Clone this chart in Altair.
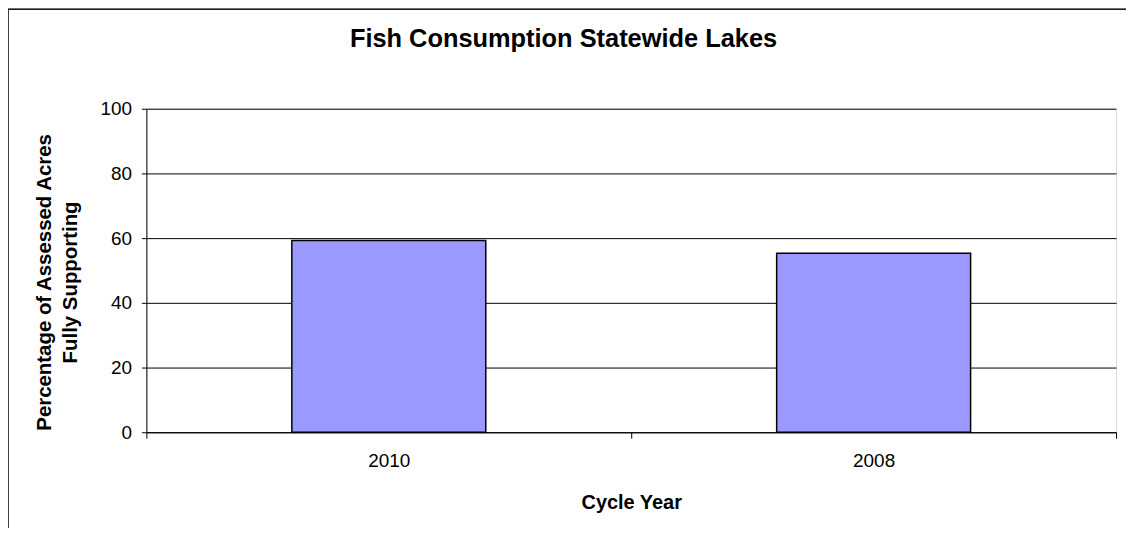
import altair as alt
import pandas as pd

years = ["2010", "2008"]
values = [59.3, 55.3]
y_ticks = [0, 20, 40, 60, 80, 100]

df = pd.DataFrame({"year": years, "value": values})

FONT = "Liberation Sans"

bars = alt.Chart(df).mark_bar(
    color="#9999FF", stroke="#000000", strokeWidth=1.5,
    width=alt.RelativeBandSize(0.4),
).encode(
    x=alt.X(
        "year:N",
        sort=None,
        scale=alt.Scale(paddingInner=0, paddingOuter=0),
        axis=alt.Axis(
            title="Cycle Year",
            labelAngle=0,
            labelFontSize=19,
            labelFont=FONT,
            labelColor="#000000",
            labelPadding=13,
            tickBand="extent",
            tickSize=6,
            tickColor="#000000",
            domainColor="#000000",
            titleFont=FONT,
            titleFontSize=20,
            titleFontWeight="bold",
            titleColor="#000000",
            titlePadding=23,
        ),
    ),
    y=alt.Y(
        "value:Q",
        scale=alt.Scale(domain=[0, 100]),
        axis=alt.Axis(
            title=["Percentage of Assessed Acres", "Fully Supporting"],
            values=y_ticks,
            labelFontSize=19,
            labelFont=FONT,
            labelColor="#000000",
            labelPadding=10,
            tickSize=5,
            tickColor="#000000",
            domainColor="#000000",
            gridColor="#000000",
            gridWidth=1,
            titleFont=FONT,
            titleFontSize=20.5,
            titleFontWeight="bold",
            titleColor="#000000",
            titleAngle=-90,
            titleBaseline="top",
            titleAlign="center",
            titleX=-112,
            titleY=174,
            titleLineHeight=26,
        ),
    ),
)

# chart frame (left and top edges visible in the reference)
frame_left = alt.Chart(df).mark_rule(color="#000000", strokeWidth=1).encode(
    x=alt.value(-139), y=alt.value(-100), y2=alt.value(430)
)
frame_top = alt.Chart(df).mark_rule(color="#000000", strokeWidth=1).encode(
    x=alt.value(-139), x2=alt.value(990), y=alt.value(-100)
)

chart = alt.layer(bars, frame_left, frame_top).properties(
    width=974,
    height=325,
    title=alt.TitleParams(
        "Fish Consumption Statewide Lakes",
        font=FONT,
        fontSize=25.5,
        fontWeight="bold",
        color="#000000",
        anchor="middle",
        baseline="alphabetic",
        offset=0,
        dx=-68,
        dy=64,
    ),
    autosize=alt.AutoSizeParams(type="none"),
    padding={"left": 139, "top": 100, "right": 10, "bottom": 95},
).configure_view(
    stroke="#808080", strokeWidth=1
).configure(background="#FFFFFF")

chart.save("out.html", embed_options={"renderer": "svg", "actions": False})
